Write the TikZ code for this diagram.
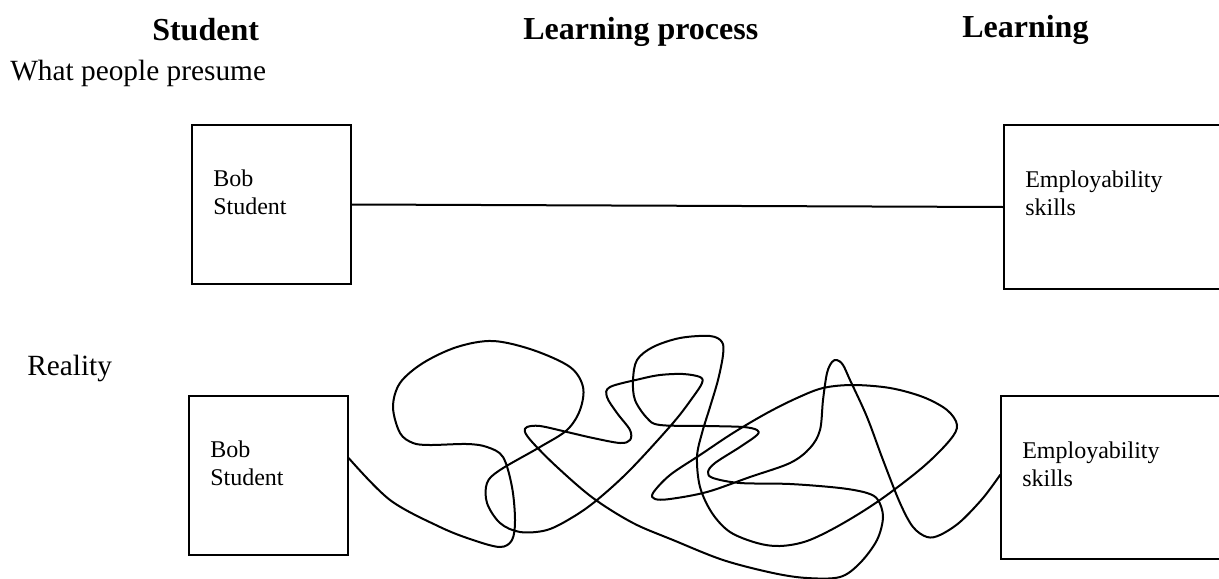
\documentclass[tikz,border=0pt]{standalone}
\usepackage{fontspec}
\setmainfont{Liberation Serif}
\begin{document}
\begin{tikzpicture}[x=0.75pt,y=-0.75pt,
  box/.style={draw, line width=1.2pt, inner sep=0pt},
  boxtext/.style={anchor=north west, inner sep=0pt, align=left,
    font=\fontsize{18}{21}\selectfont},
  heading/.style={anchor=base west, inner sep=0pt,
    font=\fontsize{24}{28}\selectfont\bfseries},
  rowlabel/.style={anchor=base west, inner sep=0pt,
    font=\fontsize{22}{26}\selectfont},
  wire/.style={line width=1.5pt, line cap=round, line join=round}]
\useasboundingbox (0,0) rectangle (1219,578);
\clip (0,0) rectangle (1219,578);

% column headings
\node[heading] (hstudent) at (152,40) {Student};
\node[heading] (hprocess) at (523,39) {Learning process};
\node[heading] (hlearning) at (962,37) {Learning};

% row labels
\node[rowlabel] (presume) at (10,80) {What people presume};
\node[rowlabel] (reality) at (27,375) {Reality};

% first row: the straight path
\node[box, minimum width=119.25pt, minimum height=119.25pt] (s1) at (271.5,204.5) {};
\node[box, minimum width=180pt, minimum height=123pt] (e1) at (1124,207) {};
\node[boxtext] (s1t) at (213,169.6) {Bob\\Student};
\node[boxtext] (e1t) at (1025,170.6) {Employability\\skills};
\draw[wire] (s1.east) -- (e1.west);

% second row: the tangled path
\node[box, minimum width=119.25pt, minimum height=119.25pt] (s2) at (268.5,475.5) {};
\node[box, minimum width=180pt, minimum height=122.25pt] (e2) at (1121,477.5) {};
\node[boxtext] (s2t) at (210,440.6) {Bob\\Student};
\node[boxtext] (e2t) at (1022,441.6) {Employability\\skills};
\coordinate (pstart) at ([yshift=13pt]s2.east);
\coordinate (pend) at ([yshift=2pt]e2.west);
\draw[wire] plot[smooth, tension=0.55] coordinates {
  (pstart) (390,500) (440,527) (473,540) (500,547) (512,540) (515,520)
  (512,487) (503,457) (487,447) (467,444) (430,445) (413,443) (400,433)
  (393,407) (400,383) (423,363) (457,347) (493,341) (533,350) (570,367)
  (583,387) (580,410) (567,430) (540,447) (500,470) (487,483) (487,503)
  (500,523) (520,532) (547,530) (573,517) (597,500) (630,470) (673,423)
  (693,397) (702,383) (700,377) (683,374) (660,375) (640,379) (610,387)
  (607,397) (617,413) (630,430) (630,440) (620,443) (593,438) (567,432)
  (540,426) (527,427) (525,432) (533,443) (557,467) (593,498) (633,523)
  (673,540) (723,560) (773,573) (807,578) (840,577) (860,563) (877,540)
  (883,517) (878,500) (867,493) (840,488) (790,484) (740,483) (713,478)
  (708,472) (715,463) (740,447) (757,435) (757,430) (743,427) (707,426)
  (660,425) (647,418) (635,400) (633,380) (637,360) (653,347) (680,338)
  (710,336) (722,342) (723,355) (718,380) (710,407) (702,433) (697,457)
  (700,487) (712,513) (730,532) (757,543) (780,546) (807,541) (840,525)
  (880,500) (923,467) (950,440) (957,425) (947,410) (923,397) (890,388)
  (853,385) (823,388) (797,398) (767,413) (733,433) (700,455) (670,475)
  (653,493) (655,499) (670,499) (707,492) (750,477) (790,463) (810,448)
  (820,430) (823,400) (827,373) (832,362) (837,360) (843,365) (850,380)
  (867,417) (883,460) (900,503) (913,527) (927,537) (940,535) (960,522)
  (983,498) (pend)};
\end{tikzpicture}
\end{document}
